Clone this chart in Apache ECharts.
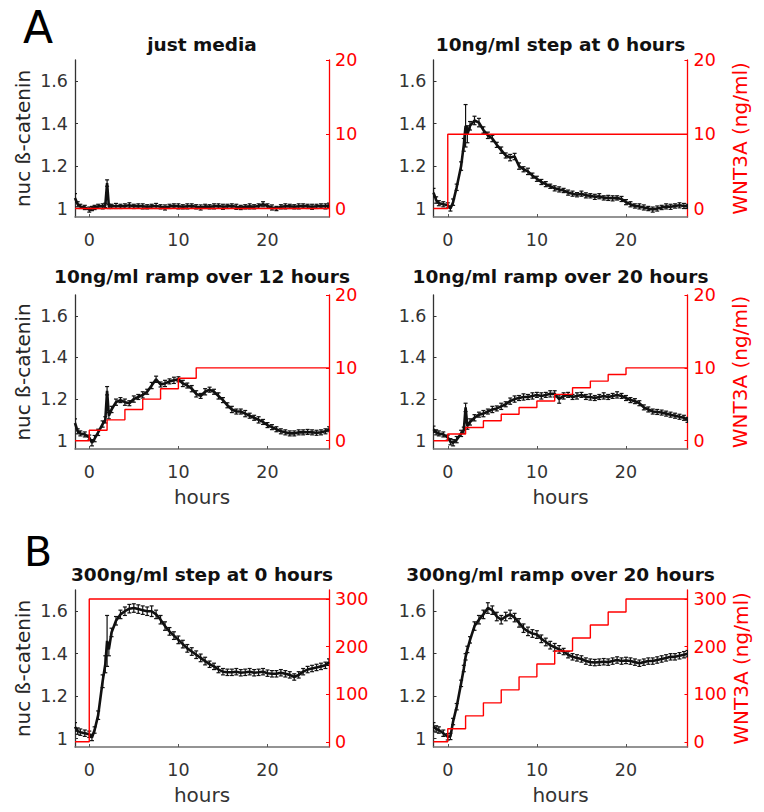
<!DOCTYPE html>
<html>
<head>
<meta charset="utf-8">
<script src="https://cdn.jsdelivr.net/npm/echarts@6/dist/echarts.min.js"></script>
<style>
html,body{margin:0;padding:0;background:#fff;}
#c{width:764px;height:812px;}
</style>
</head>
<body>
<div id="c"></div>
<script>
// ---- data ----
const times = [-1.6,-1.3,-1,-0.5,0,0.3,0.6,1,1.5,1.8,2,2.2,
2.5,3,3.5,4,4.5,5,5.5,6,6.5,7,7.5,8,8.5,9,9.5,10,
10.5,11,11.5,12,12.5,13,13.5,14,14.5,15,15.5,16,16.5,17,17.5,18,18.5,19,19.5,20,
20.5,21,21.5,22,22.5,23,23.5,24,24.5,25,25.5,26,26.5,26.9];

const betaMedia = [1.05,1.02,1.01,1.005,0.995,1.0,1.005,1.01,1.01,1.015,1.12,1.01,
1.01,1.012,1.01,1.012,1.015,1.01,1.012,1.01,1.008,1.01,1.012,1.008,1.005,1.01,1.012,1.01,
1.008,1.01,1.012,1.008,1.005,1.01,1.008,1.01,1.012,1.008,1.01,1.012,1.008,1.005,1.008,1.01,1.008,1.012,1.02,1.012,
1.005,1.0,1.008,1.01,1.01,1.008,1.01,1.012,1.01,1.008,1.01,1.012,1.01,1.015];
const betaStep10 = [1.075,1.04,1.025,1.02,1.015,1.0,1.03,1.1,1.2,1.3,1.39,1.35,
1.39,1.415,1.405,1.37,1.345,1.33,1.3,1.275,1.25,1.24,1.245,1.2,1.185,1.175,1.155,1.14,
1.125,1.115,1.105,1.095,1.09,1.085,1.075,1.07,1.065,1.07,1.062,1.06,1.055,1.058,1.05,1.05,1.048,1.05,1.045,1.03,
1.02,1.012,1.01,1.005,1.0,0.995,1.0,1.005,1.01,1.008,1.012,1.015,1.012,1.01];
const betaRamp10_12 = [1.085,1.045,1.035,1.03,1.015,0.99,1.01,1.04,1.08,1.1,1.24,1.12,
1.15,1.185,1.195,1.185,1.18,1.2,1.21,1.22,1.235,1.265,1.295,1.27,1.275,1.285,1.29,1.295,
1.275,1.265,1.25,1.225,1.215,1.235,1.245,1.235,1.215,1.195,1.17,1.15,1.14,1.14,1.13,1.12,1.11,1.1,1.09,1.075,
1.065,1.055,1.045,1.04,1.035,1.035,1.04,1.04,1.042,1.04,1.038,1.04,1.045,1.055];
const betaRamp10_20 = [1.055,1.04,1.035,1.03,1.015,0.995,0.99,1.005,1.035,1.05,1.16,1.07,
1.09,1.11,1.125,1.13,1.14,1.15,1.155,1.165,1.175,1.19,1.2,1.205,1.21,1.21,1.215,1.22,
1.215,1.22,1.225,1.225,1.2,1.215,1.22,1.21,1.215,1.22,1.21,1.21,1.205,1.21,1.215,1.21,1.215,1.22,1.215,1.205,
1.195,1.19,1.18,1.16,1.15,1.14,1.138,1.135,1.13,1.125,1.12,1.115,1.11,1.1];
const betaStep300 = [1.055,1.035,1.03,1.025,1.02,1.005,1.04,1.11,1.27,1.35,1.46,1.42,
1.5,1.555,1.585,1.6,1.612,1.615,1.61,1.605,1.6,1.6,1.585,1.56,1.53,1.505,1.485,1.465,
1.445,1.425,1.41,1.395,1.38,1.365,1.35,1.34,1.325,1.315,1.312,1.312,1.315,1.31,1.312,1.315,1.31,1.312,1.315,1.308,
1.305,1.305,1.31,1.305,1.3,1.29,1.3,1.315,1.325,1.33,1.335,1.34,1.345,1.36];
const betaRamp300_20 = [1.055,1.045,1.04,1.025,1.008,1.01,1.08,1.15,1.26,1.33,1.385,1.42,
1.465,1.53,1.56,1.585,1.615,1.605,1.575,1.56,1.575,1.585,1.57,1.545,1.52,1.505,1.495,1.49,
1.47,1.455,1.44,1.43,1.42,1.41,1.395,1.385,1.38,1.375,1.365,1.36,1.358,1.36,1.362,1.36,1.365,1.37,1.365,1.368,
1.365,1.36,1.355,1.36,1.365,1.365,1.37,1.375,1.38,1.385,1.385,1.39,1.395,1.4];

const errMedia = [0.02,0.012,0.01,0.01,0.012,0.01,0.01,0.01,0.012,0.01,0.015,0.01,
0.01,0.012,0.01,0.01,0.012,0.01,0.01,0.012,0.01,0.01,0.012,0.01,0.012,0.01,0.01,0.012,
0.01,0.012,0.01,0.01,0.012,0.01,0.01,0.012,0.01,0.012,0.01,0.01,0.012,0.01,0.01,0.012,0.01,0.01,0.012,0.01,
0.012,0.01,0.01,0.012,0.01,0.01,0.012,0.01,0.01,0.012,0.01,0.01,0.012,0.01];
const errStep10 = [0.02,0.015,0.012,0.012,0.012,0.012,0.015,0.015,0.02,0.03,0.1,0.04,
0.02,0.02,0.02,0.015,0.015,0.015,0.012,0.015,0.012,0.015,0.015,0.015,0.012,0.015,0.012,0.012,
0.012,0.012,0.01,0.012,0.012,0.01,0.012,0.012,0.01,0.012,0.012,0.01,0.012,0.012,0.01,0.012,0.012,0.01,0.012,0.012,
0.012,0.01,0.012,0.012,0.01,0.012,0.012,0.01,0.012,0.012,0.01,0.012,0.012,0.01];
const errRamp10_12 = [0.02,0.012,0.012,0.012,0.012,0.015,0.015,0.015,0.015,0.015,0.02,0.015,
0.015,0.015,0.012,0.015,0.012,0.015,0.012,0.015,0.012,0.015,0.015,0.012,0.015,0.012,0.015,0.012,
0.015,0.012,0.015,0.015,0.012,0.015,0.012,0.012,0.015,0.012,0.012,0.015,0.012,0.012,0.015,0.012,0.012,0.015,0.012,0.012,
0.012,0.012,0.012,0.012,0.012,0.012,0.012,0.012,0.012,0.012,0.012,0.012,0.012,0.012];
const errRamp10_20 = [0.015,0.012,0.012,0.012,0.012,0.015,0.015,0.015,0.015,0.015,0.02,0.015,
0.015,0.015,0.012,0.015,0.012,0.015,0.012,0.015,0.012,0.015,0.015,0.012,0.015,0.012,0.015,0.012,
0.015,0.012,0.015,0.015,0.02,0.015,0.012,0.012,0.015,0.012,0.012,0.015,0.012,0.012,0.015,0.012,0.012,0.015,0.012,0.012,
0.012,0.012,0.012,0.012,0.012,0.012,0.012,0.012,0.012,0.012,0.012,0.012,0.012,0.012];
const errStep300 = [0.02,0.015,0.015,0.015,0.015,0.015,0.015,0.02,0.03,0.04,0.12,0.03,
0.02,0.02,0.02,0.02,0.02,0.02,0.02,0.02,0.02,0.025,0.02,0.02,0.02,0.018,0.018,0.018,
0.018,0.018,0.018,0.018,0.018,0.018,0.015,0.015,0.015,0.015,0.015,0.015,0.015,0.015,0.015,0.015,0.015,0.015,0.015,0.015,
0.015,0.015,0.015,0.015,0.015,0.015,0.015,0.015,0.015,0.015,0.015,0.015,0.015,0.015];
const errRamp300_20 = [0.02,0.015,0.015,0.015,0.015,0.015,0.015,0.015,0.015,0.015,0.015,0.015,
0.015,0.02,0.02,0.02,0.025,0.02,0.02,0.02,0.02,0.02,0.02,0.02,0.02,0.02,0.018,0.018,
0.018,0.018,0.018,0.018,0.018,0.015,0.015,0.015,0.015,0.015,0.015,0.015,0.015,0.015,0.015,0.015,0.015,0.015,0.015,0.015,
0.015,0.015,0.015,0.015,0.015,0.015,0.015,0.015,0.015,0.015,0.015,0.015,0.015,0.015];

const wntTimesStep = [-1.6, 0, 26.9];
const wntTimesRamp12 = [-1.6,0,2,4,6,8,10,12,26.9];
const wntTimesRamp20 = [-1.6,0,2,4,6,8,10,12,14,16,18,20,26.9];
const wntMedia = [0,0,0];
const wntStep10 = [0,10,10];
const wntRamp10_12 = [0,1.43,2.86,4.29,5.71,7.14,8.57,10,10];
const wntRamp10_20 = [0,0.91,1.82,2.73,3.64,4.55,5.45,6.36,7.27,8.18,9.09,10,10];
const wntStep300 = [0,300,300];
const wntRamp300_20 = [0,27.3,54.5,81.8,109.1,136.4,163.6,190.9,218.2,245.5,272.7,300,300];

const titles = ['just media','10ng/ml step at 0 hours','10ng/ml ramp over 12 hours',
  '10ng/ml ramp over 20 hours','300ng/ml step at 0 hours','300ng/ml ramp over 20 hours'];
const xTicks = [0,10,20];
const betaTicks = [1,1.2,1.4,1.6];
const wntTicksLow = [0,10,20];
const wntTicksHigh = [0,100,200,300];

// ---- assembly ----
const panels = [
  {beta:betaMedia, err:errMedia, wt:wntTimesStep, w:wntMedia, wTicks:wntTicksLow, wMin:-1.14, wMax:20},
  {beta:betaStep10, err:errStep10, wt:wntTimesStep, w:wntStep10, wTicks:wntTicksLow, wMin:-1.14, wMax:20},
  {beta:betaRamp10_12, err:errRamp10_12, wt:wntTimesRamp12, w:wntRamp10_12, wTicks:wntTicksLow, wMin:-1.14, wMax:20},
  {beta:betaRamp10_20, err:errRamp10_20, wt:wntTimesRamp20, w:wntRamp10_20, wTicks:wntTicksLow, wMin:-1.14, wMax:20},
  {beta:betaStep300, err:errStep300, wt:wntTimesStep, w:wntStep300, wTicks:wntTicksHigh, wMin:-11, wMax:319},
  {beta:betaRamp300_20, err:errRamp300_20, wt:wntTimesRamp20, w:wntRamp300_20, wTicks:wntTicksHigh, wMin:-11, wMax:319}
];
const layout = [
  {left:75, top:60, h:157}, {left:433.5, top:60, h:157},
  {left:75, top:295, h:154}, {left:433.5, top:295, h:154},
  {left:75, top:590, h:157}, {left:433.5, top:590, h:157}
];
const W = 254;
const FONT = 'DejaVu Sans';
const titleY = [44, 44, 276, 276, 574, 574];

const grid = [], xAxis = [], yAxis = [], series = [], graphic = [];
panels.forEach((p, i) => {
  const L = layout[i];
  grid.push({left:L.left, top:L.top, width:W, height:L.h, containLabel:false});
  xAxis.push({
    gridIndex:i, type:'value', min:-1.6, max:26.9,
    axisLine:{show:true, onZero:false, lineStyle:{color:'#707070', width:1.5}},
    axisTick:{show:true, inside:true, length:3, customValues:xTicks, lineStyle:{color:'#555'}},
    axisLabel:{customValues:xTicks, fontSize:17.5, color:'#333', margin:14, fontFamily:FONT},
    splitLine:{show:false},
    name: i >= 2 ? 'hours' : '', nameLocation:'middle', nameGap:38,
    nameTextStyle:{fontSize:20, color:'#333', fontFamily:FONT}
  });
  yAxis.push({
    gridIndex:i, type:'value', position:'left', min:0.96, max:1.7,
    axisLine:{show:true, onZero:false, lineStyle:{color:'#333', width:1.3}},
    axisTick:{show:true, inside:true, length:3, customValues:betaTicks, lineStyle:{color:'#333'}},
    axisLabel:{customValues:betaTicks, fontSize:17.5, color:'#333', margin:7, fontFamily:FONT},
    splitLine:{show:false},
    name: i % 2 === 0 ? 'nuc ß-catenin' : '', nameLocation:'middle', nameRotate:90, nameGap:42,
    nameTextStyle:{fontSize:20, color:'#262626', fontFamily:FONT}
  });
  yAxis.push({
    gridIndex:i, type:'value', position:'right', min:p.wMin, max:p.wMax,
    axisLine:{show:true, onZero:false, lineStyle:{color:'#ff0000', width:1.3}},
    axisTick:{show:true, inside:true, length:3, customValues:p.wTicks, lineStyle:{color:'#ff0000'}},
    axisLabel:{customValues:p.wTicks, fontSize:17.5, color:'#ff0000', margin:6, fontFamily:FONT},
    splitLine:{show:false},
    name: i % 2 === 1 ? 'WNT3A (ng/ml)' : '', nameLocation:'middle', nameRotate:90, nameGap:42,
    nameTextStyle:{fontSize:20, color:'#ff0000', fontFamily:FONT}
  });
  series.push({
    type:'line', xAxisIndex:i, yAxisIndex:2*i, symbol:'none', clip:true, z:2,
    data: times.map((t,k)=>[t, p.beta[k]]),
    lineStyle:{color:'#111', width:2.6}
  });
  series.push({
    type:'custom', xAxisIndex:i, yAxisIndex:2*i, clip:true, z:3,
    data: times.map((t,k)=>[t, p.beta[k], p.err[k]]),
    encode:{x:0, y:1},
    renderItem: function(params, api){
      const x = api.value(0), y = api.value(1), e = api.value(2);
      const a = api.coord([x, y - e]), b = api.coord([x, y + e]);
      const st = {stroke:'#111', lineWidth:1.2};
      return {type:'group', children:[
        {type:'line', shape:{x1:a[0], y1:a[1], x2:b[0], y2:b[1]}, style:st},
        {type:'line', shape:{x1:a[0]-2, y1:a[1], x2:a[0]+2, y2:a[1]}, style:st},
        {type:'line', shape:{x1:b[0]-2, y1:b[1], x2:b[0]+2, y2:b[1]}, style:st}
      ]};
    }
  });
  series.push({
    type:'line', xAxisIndex:i, yAxisIndex:2*i+1, step:'end', symbol:'none', clip:true, z:4,
    data: p.wt.map((t,k)=>[t, p.w[k]]),
    lineStyle:{color:'#ff0000', width:1.4}
  });
  graphic.push({type:'text', x:L.left + W/2, y:titleY[i],
    style:{text:titles[i], font:'bold 18.5px "DejaVu Sans"', fill:'#111', textAlign:'center', textVerticalAlign:'middle'}});
});
graphic.push({type:'text', x:38, y:27, style:{text:'A', font:'44px "DejaVu Sans"', fill:'#000', textAlign:'center', textVerticalAlign:'middle'}});
graphic.push({type:'text', x:38, y:552, style:{text:'B', font:'41px "DejaVu Sans"', fill:'#000', textAlign:'center', textVerticalAlign:'middle'}});

const chart = echarts.init(document.getElementById('c'), null, {renderer:'svg'});
chart.setOption({animation:false, backgroundColor:'#fff', grid, xAxis, yAxis, series, graphic});
</script>
</body>
</html>
